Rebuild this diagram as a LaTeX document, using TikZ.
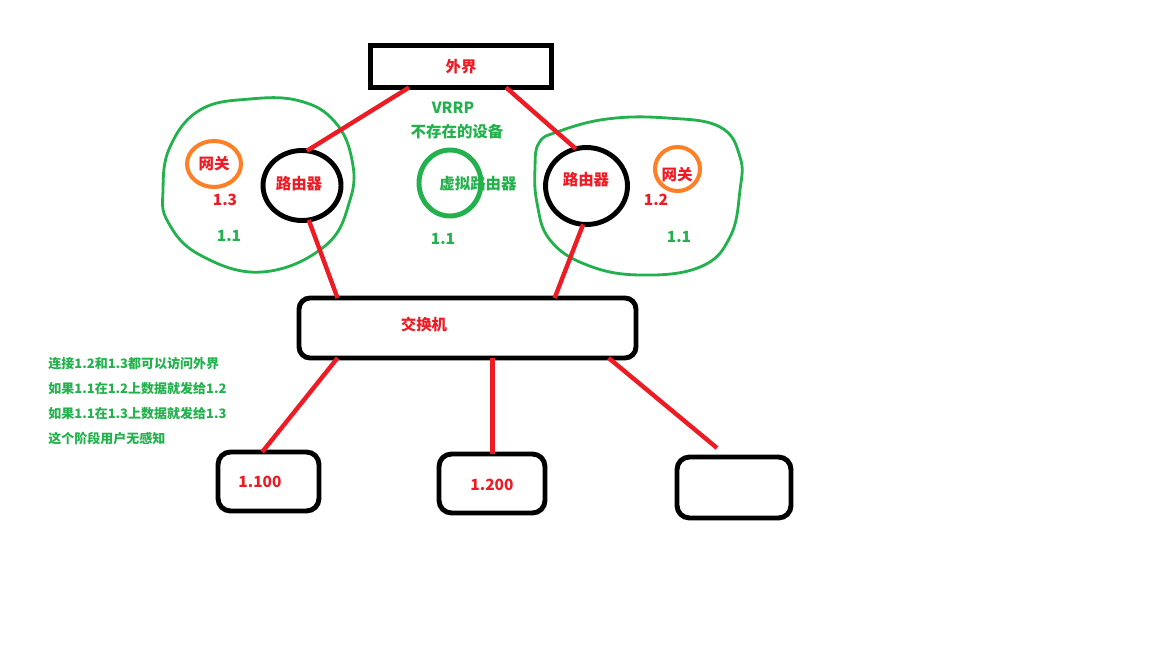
\documentclass[tikz,border=0pt]{standalone}
\usepackage{fontspec}
\newfontfamily\cjk{Noto Sans CJK SC}
\usepackage{tikz}
\usetikzlibrary{shapes.geometric}
\usepackage{xcolor}
\definecolor{pred}{RGB}{237,28,36}
\definecolor{pgreen}{RGB}{34,177,76}
\definecolor{porange}{RGB}{255,127,39}

\begin{document}
\begin{tikzpicture}[x=0.02cm, y=-0.02cm,
    every node/.style={font=\cjk\bfseries\fontsize{8.8}{10}\selectfont},
    box/.style={draw=black, line width=2.8pt, inner sep=0pt, outer sep=0pt},
    ring/.style={draw=black, ellipse, line width=2.8pt, inner sep=0pt, outer sep=0pt},
    gate/.style={draw=porange, ellipse, line width=2.3pt, inner sep=0pt},
    wire/.style={draw=pred, line width=2.5pt},
    blob/.style={draw=pgreen, line width=1.6pt},
    redtxt/.style={text=pred},
    greentxt/.style={text=pgreen},
    note/.style={text=pgreen, anchor=west, inner sep=0pt, font=\cjk\bfseries\fontsize{7.4}{9}\selectfont}]
    \useasboundingbox (0,0) rectangle (1152,648);

    % Green groups
    \draw[blob] plot[smooth cycle, tension=0.7] coordinates {(163,190) (170,147) (200,110) (250,99) (300,101) (335,122) (352,160) (350,200) (325,246) (262,272) (200,255) (168,222)};
    \draw[blob] plot[smooth cycle, tension=0.7] coordinates {(535,167) (539,143) (557,132) (607,119) (667,118) (720,127) (740,157) (740,190) (730,237) (700,267) (640,275) (587,265) (550,240) (537,203)};

    % Outside world
    \node[box, redtxt, minimum width=3.62cm, minimum height=0.84cm] (wj) at (461,66.5) {外界};

    % Left router
    \node[gate, redtxt, minimum width=1.08cm, minimum height=0.92cm] (gwl) at (214,164) {网关};
    \node[ring, minimum width=1.56cm, minimum height=1.4cm] (rl) at (302,185.5) {};
    \node[redtxt] (rlt) at (299,184) {路由器};
    \node[redtxt] (l13) at (225,200) {1.3};
    \node[greentxt] (l11a) at (229,236) {1.1};

    % Virtual router
    \node[greentxt] (vrrp) at (453,108) {VRRP};
    \node[greentxt] (nodev) at (457,132) {不存在的设备};
    \node[ring, draw=pgreen, minimum width=1.24cm, minimum height=1.32cm] (vr) at (450,183) {};
    \node[greentxt] (vrt) at (478,184) {虚拟路由器};
    \node[greentxt] (l11b) at (443,239) {1.1};

    % Right router
    \node[ring, minimum width=1.64cm, minimum height=1.54cm] (rr) at (586.5,186) {};
    \node[redtxt] (rrt) at (586,180) {路由器};
    \node[gate, minimum width=0.9cm, minimum height=0.88cm] (gwr) at (677.5,169) {};
    \node[redtxt] (gwrt) at (677,175) {网关};
    \node[redtxt] (l12) at (656,200) {1.2};
    \node[greentxt] (l11c) at (679,237) {1.1};

    % Switch and hosts
    \node[box, rounded corners=0.22cm, minimum width=6.74cm, minimum height=1.2cm] (sw) at (467.5,328) {};
    \node[redtxt] (swt) at (424,324.5) {交换机};
    \node[box, rounded corners=0.25cm, minimum width=2.02cm, minimum height=1.18cm] (b1) at (268.5,481.5) {};
    \node[redtxt] (t100) at (260,482) {1.100};
    \node[box, rounded corners=0.25cm, minimum width=2.12cm, minimum height=1.18cm] (b2) at (492,483.5) {};
    \node[redtxt] (t200) at (492,485) {1.200};
    \node[box, rounded corners=0.25cm, minimum width=2.28cm, minimum height=1.22cm] (b3) at (734,487.5) {};
    \coordinate (e3) at (717,448);

    % Links
    \draw[wire] (wj.202) -- (rl.82);
    \draw[wire] (wj.-25) -- (rr.106);
    \draw[wire] (rl.-79) -- (sw.167);
    \draw[wire] (rr.-95) -- (sw.19);
    \draw[wire] (sw.193) -- (b1.102);
    \draw[wire] (sw.-50) -- (sw.-50 |- b2.north);
    \draw[wire] (sw.-12.5) -- (e3);

    % Notes
    \node[note] (n1) at (48,364) {连接1.2和1.3都可以访问外界};
    \node[note] (n2) at (48,389) {如果1.1在1.2上数据就发给1.2};
    \node[note] (n3) at (48,414) {如果1.1在1.3上数据就发给1.3};
    \node[note] (n4) at (48,439) {这个阶段用户无感知};
\end{tikzpicture}
\end{document}
